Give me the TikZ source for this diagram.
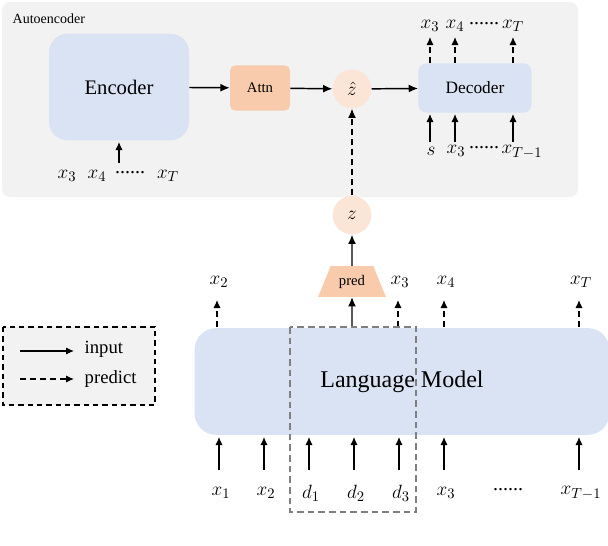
\documentclass[tikz,border=0pt]{standalone}
\usepackage{fontspec}
\setmainfont{Liberation Serif}
\usetikzlibrary{arrows.meta,shapes.geometric}
\definecolor{bluebox}{HTML}{DAE3F3}
\definecolor{panel}{HTML}{F2F2F2}
\definecolor{attn}{HTML}{F8CBAD}
\definecolor{zc}{HTML}{FBE5D6}
\begin{document}
\begin{tikzpicture}[x=0.75pt,y=-0.75pt,
  arr/.style={-{Latex[length=7pt,width=6pt]},line width=1.1pt},
  dsh/.style={dash pattern=on 4.5pt off 3pt},
  darr/.style={arr,dsh},
  sarr/.style={-{Latex[length=6pt,width=5.5pt]},line width=1pt},
  dsarr/.style={sarr,dsh},
  lbl/.style={font=\fontsize{15}{15}\selectfont},
  blue/.style={fill=bluebox,draw=none,rounded corners=8pt}]
\useasboundingbox (0,0) rectangle (608,546);
\fill[panel,rounded corners=6pt] (2,2) rectangle (578,197);
\node[anchor=west,font=\fontsize{10.5}{10.5}\selectfont] (ae) at (8,19) {Autoencoder};
\node[blue,minimum width=105pt,minimum height=80pt,rounded corners=14pt,font=\fontsize{15.5}{15.5}\selectfont] (enc) at (119,87) {Encoder};
\node[fill=attn,rounded corners=4pt,minimum width=45pt,minimum height=34pt,font=\fontsize{11}{11}\selectfont] (attn) at (260,88) {Attn};
\node[circle,fill=zc,minimum size=29pt,inner sep=0pt,lbl] (zh) at (352,89) {$\hat z$};
\node[blue,rounded corners=6pt,minimum width=85pt,minimum height=37pt,font=\fontsize{13}{13}\selectfont] (dec) at (475,88) {Decoder};
\draw[arr] (enc) -- (attn);
\draw[arr] (attn) -- (zh);
\draw[arr] (zh) -- (dec);
% encoder input
\coordinate (ein) at (119,163);
\draw[sarr] (ein) -- (119,142);
\node[lbl] (e1) at (67,176) {$x_3$};
\node[lbl] (e2) at (97,176) {$x_4$};
\node[lbl] (e3) at (130,173) {......};
\node[lbl] (e4) at (168,176) {$x_T$};
% decoder outputs
\foreach \x/\t/\n in {430/x_3/o1,455/x_4/o2,513/x_T/o4}{
  \node[lbl] (\n) at (\x,26) {$\t$};
  \draw[dsarr] (\x,63) -- (\x,37);
}
\node[lbl] (o3) at (484,24) {......};
\foreach \x/\t/\n in {430/s/i1,455/x_3/i2}{
  \node[lbl] (\n) at (\x+1,151) {$\t$};
  \draw[sarr] (\x,142) -- (\x,114);
}
\node[lbl] (i3) at (484,148) {......};
\node[lbl] (i4) at (522,152) {$x_{T-1}$};
\draw[sarr] (513,142) -- (513,114);
% z
\node[circle,fill=zc,minimum size=29pt,inner sep=0pt,lbl] (z) at (352,215) {$z$};
\draw[darr] (z) -- (zh);
\node[trapezium,trapezium stretches=true,fill=attn,minimum width=51pt,minimum height=23pt,inner sep=0pt,font=\fontsize{11}{11}\selectfont] (pred) at (352,281.5) {pred};
\draw[arr] (pred.north) -- (z);
% LM
\node[blue,rounded corners=16pt,minimum width=311pt,minimum height=80pt,font=\fontsize{18}{18}\selectfont] (lm) at (402,381.5) {Language Model};
\draw[arr] (lm.north -| pred) -- (pred.south);
\foreach \x/\t/\n in {217/x_2/p1,398/x_3/p2,444/x_4/p3,579/x_T/p4}{
  \node[lbl] (\n) at (\x+2,282) {$\t$};
  \draw[dsarr] (\x,327) -- (\x,300);
}
\foreach \x/\t/\n in {219/x_1/b1,264/x_2/b2,309/d_1/b3,354/d_2/b4,399/d_3/b5,444/x_3/b6,579/x_{T-1}/b8}{
  \node[lbl] (\n) at (\x+2,493) {$\t$};
  \draw[sarr] (\x,470) -- (\x,437);
}
\node[lbl] (b7) at (508,490) {......};
\draw[gray,dash pattern=on 5pt off 3pt,line width=1.3pt] (290,327) rectangle (416,512);
% legend
\draw[fill=panel,dash pattern=on 4pt off 3pt,line width=0.9pt] (3,327) rectangle (155,405);
\draw[sarr] (20,351) -- (74,351);
\draw[dsarr] (20,379) -- (74,379);
\node[anchor=west,font=\fontsize{14}{14}\selectfont] (li) at (80,349) {input};
\node[anchor=west,font=\fontsize{14}{14}\selectfont] (lp) at (80,379) {predict};
\end{tikzpicture}
\end{document}
